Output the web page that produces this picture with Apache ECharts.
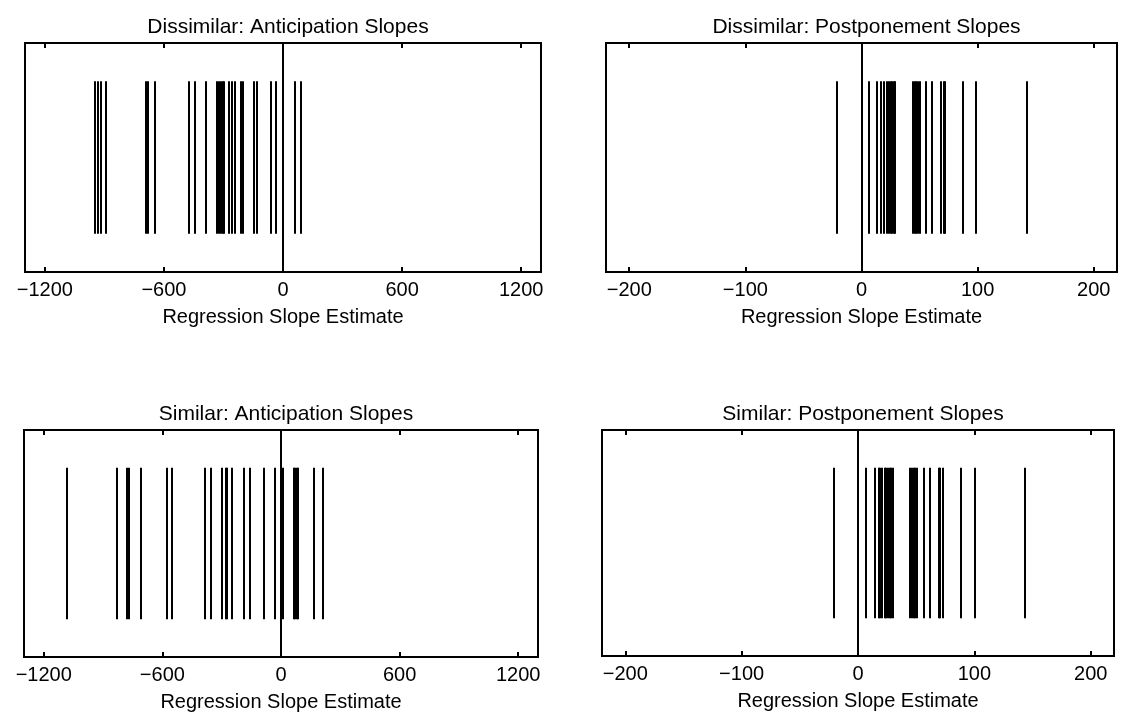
<!DOCTYPE html>
<html>
<head>
<meta charset="utf-8">
<script src="https://cdn.jsdelivr.net/npm/echarts@6/dist/echarts.min.js"></script>
<style>
  html, body { margin: 0; padding: 0; background: #fff; }
  #chart { width: 1122px; height: 715px; }
</style>
</head>
<body>
<div id="chart"></div>
<script>
// slope estimates
const dissimAnticipation = [-950, -933, -916, -893, -690, -680, -645, -474, -446, -391,
  -333, -322, -314, -305, -297, -275, -260, -243, -214, -201, -147, -133, -60, -35, 61, 90];
const dissimPostponement = [-21, 6, 13, 17, 19, 22, 23.5, 25, 26, 27.5, 29, 44, 45.5, 47,
  48.5, 50, 55.5, 60.5, 68.5, 70.5, 72, 87.5, 98, 142.5];
const simAnticipation = [-1084, -830, -782, -770, -711, -576, -553, -385, -357, -299, -282,
  -272, -250, -186, -157, -87, -33, 8, 65, 72, 79, 85, 165, 213];
const simPostponement = [-21, 7, 14, 17.5, 19, 20.5, 23, 24, 25.5, 27, 28.5, 30, 44.5, 46,
  47.5, 49, 50.5, 56.5, 61.5, 69, 70.5, 72.5, 88, 100, 143];

const titles = ["Dissimilar: Anticipation Slopes", "Dissimilar: Postponement Slopes",
  "Similar: Anticipation Slopes", "Similar: Postponement Slopes"];
const anticipationTicks = [-1200, -600, 0, 600, 1200];
const postponementTicks = [-200, -100, 0, 100, 200];
const xLabel = "Regression Slope Estimate";

const FONT = "'Liberation Sans', Arial, Helvetica, sans-serif";

const panels = [
  { data: dissimAnticipation, ticks: anticipationTicks, range: 1300, grid: { left: 25, top: 43, width: 516, height: 229 } },
  { data: dissimPostponement, ticks: postponementTicks, range: 220, grid: { left: 606, top: 43, width: 511, height: 229 } },
  { data: simAnticipation, ticks: anticipationTicks, range: 1300, grid: { left: 24, top: 430, width: 514, height: 227 } },
  { data: simPostponement, ticks: postponementTicks, range: 220, grid: { left: 602, top: 430, width: 512, height: 226 } }
];

const chart = echarts.init(document.getElementById("chart"), null, { renderer: "canvas" });

const grid = [], xAxis = [], yAxis = [], series = [], title = [];

panels.forEach((p, i) => {
  grid.push(Object.assign({
    show: true, borderColor: "#000", borderWidth: 2, backgroundColor: "#fff"
  }, p.grid));

  title.push({
    text: titles[i],
    left: p.grid.left + p.grid.width / 2,
    top: p.grid.top - 31,
    textAlign: "center",
    textStyle: { fontFamily: FONT, fontSize: 21, fontWeight: "normal", color: "#000" }
  });

  // bottom axis with labels
  xAxis.push({
    gridIndex: i, type: "value", position: "bottom",
    min: -p.range, max: p.range,
    axisLine: { show: false },
    splitLine: { show: false },
    axisTick: { inside: true, length: 5, customValues: p.ticks, lineStyle: { color: "#000", width: 2 } },
    axisLabel: { customValues: p.ticks, margin: 8, color: "#000", fontFamily: FONT, fontSize: 20,
      formatter: v => (v < 0 ? "\u2212" + Math.abs(v) : String(v)) },
    name: xLabel, nameLocation: "middle", nameGap: 35,
    nameTextStyle: { fontFamily: FONT, fontSize: 20, color: "#000" }
  });
  // top axis, ticks only
  xAxis.push({
    gridIndex: i, type: "value", position: "top",
    min: -p.range, max: p.range,
    axisLine: { show: false },
    splitLine: { show: false },
    axisTick: { inside: true, length: 5, customValues: p.ticks, lineStyle: { color: "#000", width: 2 } },
    axisLabel: { show: false }
  });
  yAxis.push({
    gridIndex: i, type: "value", min: 0, max: 6,
    show: false, splitLine: { show: false }
  });

  series.push({
    type: "lines",
    coordinateSystem: "cartesian2d",
    xAxisIndex: i * 2, yAxisIndex: i,
    polyline: false,
    silent: true,
    lineStyle: { color: "#000", width: 2, opacity: 1 },
    data: p.data.map(v => ({ coords: [[v, 1], [v, 5]] })),
    markLine: {
      silent: true, symbol: "none", label: { show: false },
      lineStyle: { color: "#000", width: 2, type: "solid" },
      data: [{ xAxis: 0 }]
    }
  });
});

chart.setOption({
  animation: false,
  backgroundColor: "#fff",
  title, grid, xAxis, yAxis, series
});
</script>
</body>
</html>
